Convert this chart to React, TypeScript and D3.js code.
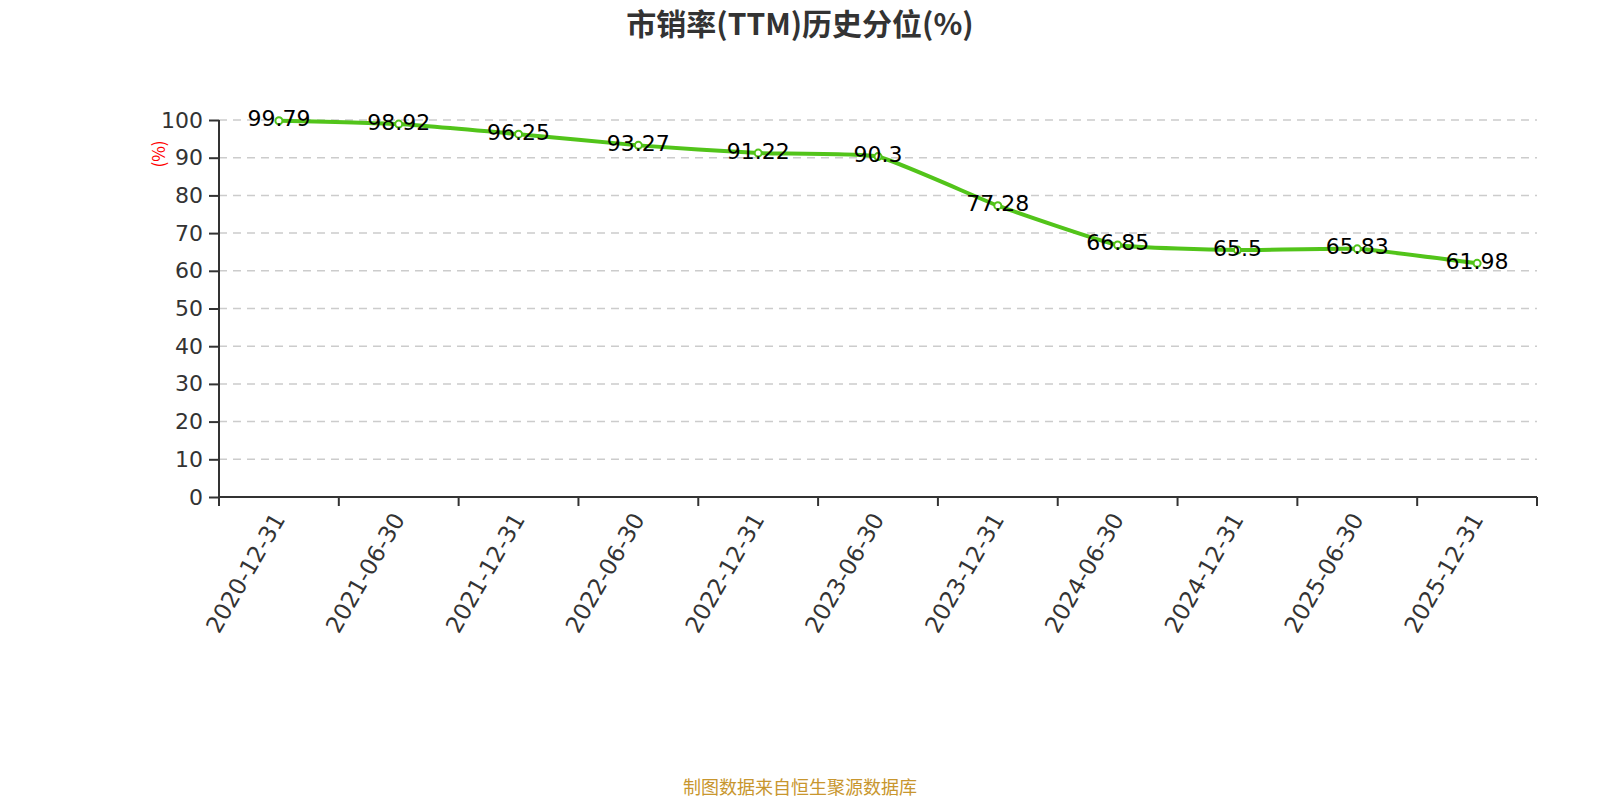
import React, { useEffect, useRef } from 'react';
import * as d3 from 'd3';

const categories: string[] = [
  '2020-12-31',
  '2021-06-30',
  '2021-12-31',
  '2022-06-30',
  '2022-12-31',
  '2023-06-30',
  '2023-12-31',
  '2024-06-30',
  '2024-12-31',
  '2025-06-30',
  '2025-12-31',
];

const values: number[] = [99.79, 98.92, 96.25, 93.27, 91.22, 90.3, 77.28, 66.85, 65.5, 65.83, 61.98];

const yTicks: number[] = [0, 10, 20, 30, 40, 50, 60, 70, 80, 90, 100];

const title = '市销率(TTM)历史分位(%)';
const yLabel = '(%)';
const footer = '制图数据来自恒生聚源数据库';

const FONT = '"Noto Sans CJK SC", "Noto Sans", sans-serif';
const NUM_FONT = '"DejaVu Sans", "Noto Sans", sans-serif';

const App: React.FC = () => {
  const containerRef = useRef<HTMLDivElement>(null);

  useEffect(() => {
    if (containerRef && containerRef.current) {
      drawChart(containerRef.current);
    }
  }, [containerRef]);

  return <div ref={containerRef} style={{ position: 'absolute', left: 0, top: 0 }}></div>;
};

const drawChart = (container: HTMLDivElement) => {
  const W = 1600;
  const H = 800;
  const margin = { top: 120, left: 219, right: 63, bottom: 303 };
  const width = W - margin.left - margin.right;
  const height = H - margin.top - margin.bottom;

  d3.select(container).select('svg.chart').remove();

  const root = d3
    .select(container)
    .append('svg')
    .attr('class', 'chart')
    .attr('width', W)
    .attr('height', H)
    .style('display', 'block')
    .style('font-family', FONT);

  root.append('rect').attr('width', W).attr('height', H).attr('fill', '#fff');

  root
    .append('text')
    .attr('x', W / 2)
    .attr('y', 22)
    .attr('text-anchor', 'middle')
    .attr('dominant-baseline', 'central')
    .attr('fill', '#333')
    .style('font-size', '30px')
    .style('font-weight', 'bold')
    .text(title);

  root
    .append('text')
    .attr('x', W / 2)
    .attr('y', 786)
    .attr('text-anchor', 'middle')
    .attr('dominant-baseline', 'central')
    .attr('fill', '#c8962e')
    .style('font-size', '18px')
    .text(footer);

  const svg = root.append('g').attr('transform', `translate(${margin.left}, ${margin.top})`);

  const xScale = d3.scaleBand<string>().domain(categories).range([0, width]);
  const yScale = d3.scaleLinear().domain([0, 100]).range([height, 0]);

  // grid
  svg
    .append('g')
    .selectAll('line')
    .data(yTicks.filter((t) => t > 0))
    .enter()
    .append('line')
    .attr('x1', 0)
    .attr('x2', width)
    .attr('y1', (d) => yScale(d))
    .attr('y2', (d) => yScale(d))
    .attr('stroke', '#ccc')
    .attr('stroke-width', 1.5)
    .attr('stroke-dasharray', '8,6');

  // y axis
  const yAxisG = svg.append('g');
  yAxisG.call(d3.axisLeft(yScale).tickValues(yTicks).tickSize(10).tickPadding(6));
  yAxisG.selectAll('.domain').attr('stroke', '#333').attr('stroke-width', 2).attr('d', `M0,0V${height}`);
  yAxisG.selectAll('.tick line').attr('stroke', '#333').attr('stroke-width', 2);
  yAxisG
    .selectAll('.tick text')
    .attr('fill', '#333')
    .style('font-size', '22px')
    .style('font-family', NUM_FONT);

  // x axis
  const xAxisG = svg.append('g').attr('transform', `translate(0, ${height})`);
  xAxisG.call(d3.axisBottom(xScale).tickSize(0).tickFormat(() => ''));
  xAxisG.selectAll('.domain').attr('stroke', '#333').attr('stroke-width', 2).attr('d', `M0,0H${width}`);
  xAxisG.selectAll('.tick').remove();

  const boundaries = d3.range(categories.length + 1).map((i) => i * xScale.step());
  xAxisG
    .selectAll('line.bt')
    .data(boundaries)
    .enter()
    .append('line')
    .attr('class', 'bt')
    .attr('x1', (d) => d)
    .attr('x2', (d) => d)
    .attr('y1', 0)
    .attr('y2', 9)
    .attr('stroke', '#333')
    .attr('stroke-width', 2);

  xAxisG
    .selectAll('text.xl')
    .data(categories)
    .enter()
    .append('text')
    .attr('class', 'xl')
    .attr('transform', (d) => `translate(${(xScale(d) || 0) + xScale.bandwidth() / 2}, 18) rotate(-60)`)
    .attr('text-anchor', 'end')
    .attr('dominant-baseline', 'central')
    .attr('fill', '#333')
    .style('font-size', '23px')
    .style('font-family', NUM_FONT)
    .text((d) => d);

  // y label
  root
    .append('text')
    .attr('transform', `translate(157, 154) rotate(-90)`)
    .attr('text-anchor', 'middle')
    .attr('dominant-baseline', 'central')
    .attr('fill', 'red')
    .style('font-size', '17px')
    .text(yLabel);

  const xPos = (i: number) => (xScale(categories[i]) || 0) + xScale.bandwidth() / 2;

  const lineGenerator = d3
    .line<number>()
    .x((d, i) => xPos(i))
    .y((d) => yScale(d))
    .curve(d3.curveCardinal.tension(0.6));

  svg
    .append('path')
    .attr('d', lineGenerator(values) || '')
    .attr('fill', 'none')
    .attr('stroke', '#52c41a')
    .attr('stroke-width', 4)
    .attr('stroke-linejoin', 'round')
    .attr('stroke-linecap', 'round');

  svg
    .selectAll('circle.pt')
    .data(values)
    .enter()
    .append('circle')
    .attr('class', 'pt')
    .attr('cx', (d, i) => xPos(i))
    .attr('cy', (d) => yScale(d))
    .attr('r', 3.5)
    .attr('fill', '#fff')
    .attr('stroke', '#52c41a')
    .attr('stroke-width', 2);

  svg
    .selectAll('text.lbl')
    .data(values)
    .enter()
    .append('text')
    .attr('class', 'lbl')
    .attr('x', (d, i) => xPos(i))
    .attr('y', (d) => yScale(d) - 2)
    .attr('text-anchor', 'middle')
    .attr('dominant-baseline', 'central')
    .attr('fill', '#000')
    .style('font-size', '22px')
    .style('font-family', NUM_FONT)
    .text((d) => String(d));
};

export default App;
